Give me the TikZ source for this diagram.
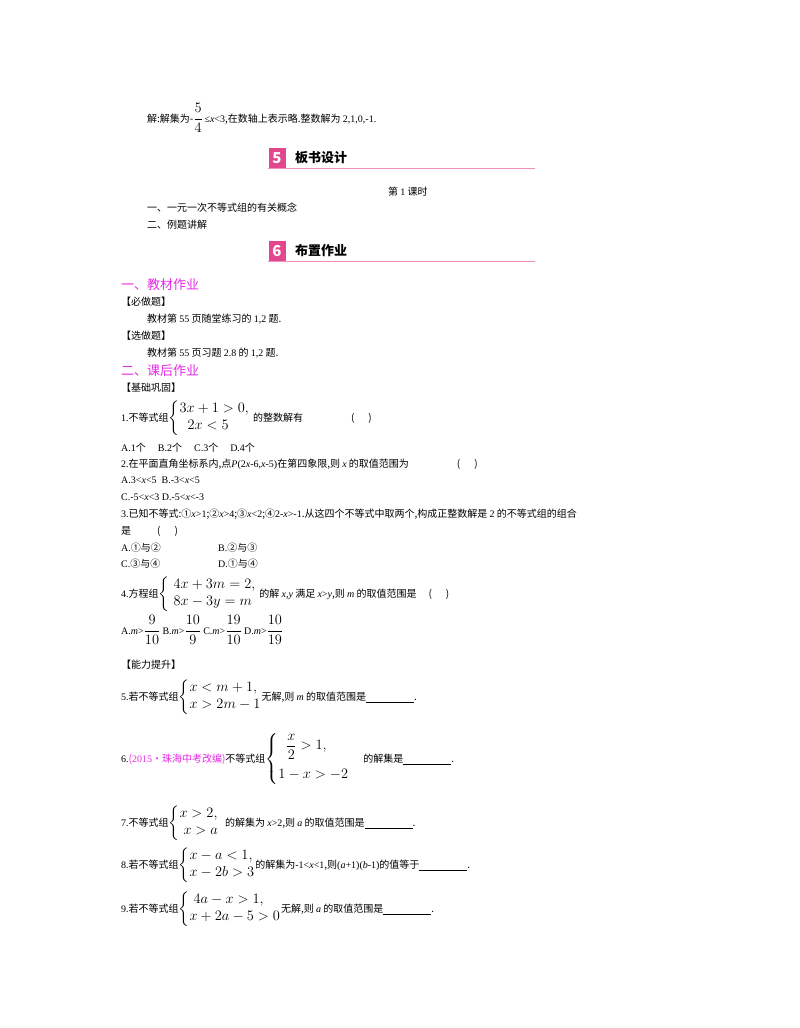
\documentclass[tikz,border=0pt]{standalone}
\usepackage{amsmath}
\usepackage{fontspec}
\setmainfont{Noto Sans CJK SC}
\newfontfamily\ser{Liberation Serif}
\definecolor{pk}{RGB}{226,70,140}
\definecolor{mg}{RGB}{230,40,230}
\newcommand{\Sys}[1]{{\fontsize{13.5}{17}\selectfont$\left\{\begin{array}{@{}l@{}}#1\end{array}\right.$}}
\newcommand{\Fr}[2]{{\fontsize{13.5}{16}\selectfont$\dfrac{#1}{#2}$}}
\begin{document}
\begin{tikzpicture}[x=1pt,y=-1pt,
  t/.style={anchor=west,inner sep=0pt,font=\fontsize{10}{12}\selectfont},
  hd/.style={anchor=west,inner sep=0pt,font=\fontsize{13}{14}\selectfont\bfseries},
  mgh/.style={anchor=west,inner sep=0pt,text=mg,font=\fontsize{13}{14}\selectfont},
  numbox/.style={fill=pk,text=white,minimum width=17pt,minimum height=20pt,inner sep=0pt,font=\fontsize{15}{15}\selectfont\bfseries\itshape}]
\useasboundingbox (0,0) rectangle (800,1028);
\node[t] (l1) at (147,118) {解:解集为-\Fr{5}{4}{\ser\,≤\textit{x}<3},在数轴上表示略.整数解为 {\ser 2,1,0,-1.}};
% header 5
\node[numbox] (n5) at (277,158) {5};
\node[hd] (h5) at (295,158) {板书设计};
\draw[pk!60] (268,168.5) -- (535,168.5);
\node[t] (k1) at (388,192) {第 {\ser 1} 课时};
\node[t] (k2) at (147,208) {一、一元一次不等式组的有关概念};
\node[t] (k3) at (147,225) {二、例题讲解};
% header 6
\node[numbox] (n6) at (277,251) {6};
\node[hd] (h6) at (295,251) {布置作业};
\draw[pk!60] (268,261.5) -- (535,261.5);
\node[mgh] (m1) at (121,285) {一、教材作业};
\node[t] (b1) at (121,302) {【必做题】};
\node[t] (b2) at (147,319) {教材第 {\ser 55} 页随堂练习的 {\ser 1,2} 题.};
\node[t] (b3) at (121,336) {【选做题】};
\node[t] (b4) at (147,353) {教材第 {\ser 55} 页习题 {\ser 2.8} 的 {\ser 1,2} 题.};
\node[mgh] (m2) at (121,371) {二、课后作业};
\node[t] (c0) at (121,388) {【基础巩固】};
\node[t] (q1) at (121,418) {{\ser 1.}不等式组\Sys{3x+1>0,\\ \;\;2x<5}\hspace{3pt}的整数解有\hspace{48pt}(\hspace{14pt})};
\node[t] (q1a) at (121,448) {{\ser A.1}个\hspace{12pt}{\ser B.2}个\hspace{12pt}{\ser C.3}个\hspace{12pt}{\ser D.4}个};
\node[t] (q2) at (121,464) {{\ser 2.}在平面直角坐标系内,点{\ser\itshape P}{\ser(2\textit{x}-6,\textit{x}-5)}在第四象限,则 {\ser\itshape x} 的取值范围为\hspace{48pt}(\hspace{14pt})};
\node[t] (q2a) at (121,480) {\ser A.3<\textit{x}<5\ \ B.-3<\textit{x}<5};
\node[t] (q2c) at (121,497) {\ser C.-5<\textit{x}<3 D.-5<\textit{x}<-3};
\node[t] (q3) at (121,514) {{\ser 3.}已知不等式:①{\ser\textit{x}>1};②{\ser\textit{x}>4};③{\ser\textit{x}<2};④{\ser 2-\textit{x}>-1}.从这四个不等式中取两个,构成正整数解是 {\ser 2} 的不等式组的组合};
\node[t] (q3b) at (121,531) {是\hspace{26pt}(\hspace{14pt})};
\node[t] (q3a) at (121,548) {{\ser A.}①与②};
\node[t] (q3bb) at (218,548) {{\ser B.}②与③};
\node[t] (q3c) at (121,564) {{\ser C.}③与④};
\node[t] (q3d) at (218,564) {{\ser D.}①与④};
\node[t] (q4) at (121,594) {{\ser 4.}方程组\Sys{\;4x+3m=2,\\ \;8x-3y=m}\hspace{3pt}的解 {\ser\itshape x,y} 满足 {\ser\textit{x}>\textit{y}},则 {\ser\itshape m} 的取值范围是\hspace{12pt}(\hspace{14pt})};
\node[t] (q4a) at (121,630) {{\ser A.\textit{m}>}\Fr{9}{10} {\ser B.\textit{m}>}\Fr{10}{9} {\ser C.\textit{m}>}\Fr{19}{10} {\ser D.\textit{m}>}\Fr{10}{19}};
\node[t] (c1) at (121,665) {【能力提升】};
\node[t] (q5) at (121,697) {{\ser 5.}若不等式组\Sys{x<m+1,\\ x>2m-1}无解,则 {\ser\itshape m} 的取值范围是\underline{\hspace{48pt}}.};
\node[t] (q6) at (121,759) {{\ser 6.}{\color{mg}({\ser 2015}·珠海中考改编)}不等式组\Sys{\;\;\dfrac{x}{2}>1,\\[12pt] 1-x>-2}\hspace{14pt}的解集是\underline{\hspace{48pt}}.};
\node[t] (q7) at (121,823) {{\ser 7.}不等式组\Sys{x>2,\\ \;x>a}\hspace{6pt}的解集为 {\ser\textit{x}>2},则 {\ser\itshape a} 的取值范围是\underline{\hspace{48pt}}.};
\node[t] (q8) at (121,865) {{\ser 8.}若不等式组\Sys{x-a<1,\\ x-2b>3}的解集为{\ser -1<\textit{x}<1},则{\ser(\textit{a}+1)(\textit{b}-1)}的值等于\underline{\hspace{48pt}}.};
\node[t] (q9) at (121,909) {{\ser 9.}若不等式组\Sys{\;4a-x>1,\\ x+2a-5>0}无解,则 {\ser\itshape a} 的取值范围是\underline{\hspace{48pt}}.};
\end{tikzpicture}
\end{document}
